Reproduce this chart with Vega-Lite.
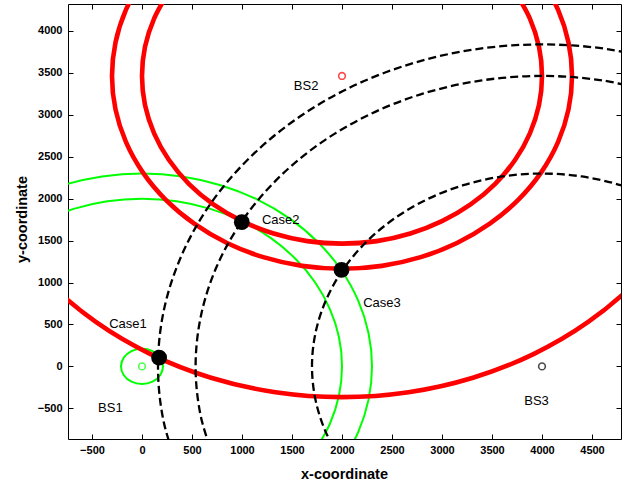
{
  "$schema": "https://vega.github.io/schema/vega-lite/v6.json",
  "width": 553,
  "height": 435,
  "autosize": "none",
  "padding": {"left": 68, "top": 4, "right": 6, "bottom": 49},
  "background": "white",
  "config": {"view": {"stroke": "black", "strokeWidth": 1}, "font": "Liberation Sans"},
  "datasets": {
    "circles": [
      {"g":"red","c":"r1","i":0,"x":268,"y":4464},{"g":"red","c":"r1","i":1,"x":121,"y":4148},{"g":"red","c":"r1","i":2,"x":30,"y":3811},{"g":"red","c":"r1","i":3,"x":0,"y":3464},{"g":"red","c":"r1","i":4,"x":30,"y":3117},{"g":"red","c":"r1","i":5,"x":121,"y":2780},{"g":"red","c":"r1","i":6,"x":268,"y":2464},{"g":"red","c":"r1","i":7,"x":468,"y":2178},{"g":"red","c":"r1","i":8,"x":714,"y":1932},{"g":"red","c":"r1","i":9,"x":1000,"y":1732},{"g":"red","c":"r1","i":10,"x":1316,"y":1585},{"g":"red","c":"r1","i":11,"x":1653,"y":1494},{"g":"red","c":"r1","i":12,"x":2000,"y":1464},{"g":"red","c":"r1","i":13,"x":2347,"y":1494},{"g":"red","c":"r1","i":14,"x":2684,"y":1585},{"g":"red","c":"r1","i":15,"x":3000,"y":1732},{"g":"red","c":"r1","i":16,"x":3286,"y":1932},{"g":"red","c":"r1","i":17,"x":3532,"y":2178},{"g":"red","c":"r1","i":18,"x":3732,"y":2464},{"g":"red","c":"r1","i":19,"x":3879,"y":2780},{"g":"red","c":"r1","i":20,"x":3970,"y":3117},{"g":"red","c":"r1","i":21,"x":4000,"y":3464},{"g":"red","c":"r1","i":22,"x":3970,"y":3811},{"g":"red","c":"r1","i":23,"x":3879,"y":4148},{"g":"red","c":"r1","i":24,"x":3732,"y":4464},
      {"g":"red","c":"r2","i":0,"x":8,"y":4614},{"g":"red","c":"r2","i":1,"x":-161,"y":4251},{"g":"red","c":"r2","i":2,"x":-265,"y":3863},{"g":"red","c":"r2","i":3,"x":-300,"y":3464},{"g":"red","c":"r2","i":4,"x":-265,"y":3065},{"g":"red","c":"r2","i":5,"x":-161,"y":2677},{"g":"red","c":"r2","i":6,"x":8,"y":2314},{"g":"red","c":"r2","i":7,"x":238,"y":1986},{"g":"red","c":"r2","i":8,"x":522,"y":1702},{"g":"red","c":"r2","i":9,"x":850,"y":1472},{"g":"red","c":"r2","i":10,"x":1213,"y":1303},{"g":"red","c":"r2","i":11,"x":1601,"y":1199},{"g":"red","c":"r2","i":12,"x":2000,"y":1164},{"g":"red","c":"r2","i":13,"x":2399,"y":1199},{"g":"red","c":"r2","i":14,"x":2787,"y":1303},{"g":"red","c":"r2","i":15,"x":3150,"y":1472},{"g":"red","c":"r2","i":16,"x":3478,"y":1702},{"g":"red","c":"r2","i":17,"x":3762,"y":1986},{"g":"red","c":"r2","i":18,"x":3992,"y":2314},{"g":"red","c":"r2","i":19,"x":4161,"y":2677},{"g":"red","c":"r2","i":20,"x":4265,"y":3065},{"g":"red","c":"r2","i":21,"x":4300,"y":3464},{"g":"red","c":"r2","i":22,"x":4265,"y":3863},{"g":"red","c":"r2","i":23,"x":4161,"y":4251},{"g":"red","c":"r2","i":24,"x":3992,"y":4614},
      {"g":"red","c":"r3","i":0,"x":-1317,"y":1549},{"g":"red","c":"r3","i":1,"x":-934,"y":1002},{"g":"red","c":"r3","i":2,"x":-462,"y":530},{"g":"red","c":"r3","i":3,"x":85,"y":147},{"g":"red","c":"r3","i":4,"x":690,"y":-135},{"g":"red","c":"r3","i":5,"x":1335,"y":-308},{"g":"red","c":"r3","i":6,"x":2000,"y":-366},{"g":"red","c":"r3","i":7,"x":2665,"y":-308},{"g":"red","c":"r3","i":8,"x":3310,"y":-135},{"g":"red","c":"r3","i":9,"x":3915,"y":147},{"g":"red","c":"r3","i":10,"x":4462,"y":530},{"g":"red","c":"r3","i":11,"x":4934,"y":1002},{"g":"red","c":"r3","i":12,"x":5317,"y":1549},
      {"g":"green","c":"g1","i":0,"x":1732,"y":-1000},{"g":"green","c":"g1","i":1,"x":1879,"y":-684},{"g":"green","c":"g1","i":2,"x":1970,"y":-347},{"g":"green","c":"g1","i":3,"x":2000,"y":0},{"g":"green","c":"g1","i":4,"x":1970,"y":347},{"g":"green","c":"g1","i":5,"x":1879,"y":684},{"g":"green","c":"g1","i":6,"x":1732,"y":1000},{"g":"green","c":"g1","i":7,"x":1532,"y":1286},{"g":"green","c":"g1","i":8,"x":1286,"y":1532},{"g":"green","c":"g1","i":9,"x":1000,"y":1732},{"g":"green","c":"g1","i":10,"x":684,"y":1879},{"g":"green","c":"g1","i":11,"x":347,"y":1970},{"g":"green","c":"g1","i":12,"x":0,"y":2000},{"g":"green","c":"g1","i":13,"x":-347,"y":1970},{"g":"green","c":"g1","i":14,"x":-684,"y":1879},{"g":"green","c":"g1","i":15,"x":-1000,"y":1732},
      {"g":"green","c":"g2","i":0,"x":1992,"y":-1150},{"g":"green","c":"g2","i":1,"x":2161,"y":-787},{"g":"green","c":"g2","i":2,"x":2265,"y":-399},{"g":"green","c":"g2","i":3,"x":2300,"y":0},{"g":"green","c":"g2","i":4,"x":2265,"y":399},{"g":"green","c":"g2","i":5,"x":2161,"y":787},{"g":"green","c":"g2","i":6,"x":1992,"y":1150},{"g":"green","c":"g2","i":7,"x":1762,"y":1478},{"g":"green","c":"g2","i":8,"x":1478,"y":1762},{"g":"green","c":"g2","i":9,"x":1150,"y":1992},{"g":"green","c":"g2","i":10,"x":787,"y":2161},{"g":"green","c":"g2","i":11,"x":399,"y":2265},{"g":"green","c":"g2","i":12,"x":0,"y":2300},{"g":"green","c":"g2","i":13,"x":-399,"y":2265},{"g":"green","c":"g2","i":14,"x":-787,"y":2161},{"g":"green","c":"g2","i":15,"x":-1150,"y":1992},
      {"g":"green","c":"g3","i":0,"x":182,"y":-105},{"g":"green","c":"g3","i":1,"x":210,"y":0},{"g":"green","c":"g3","i":2,"x":182,"y":105},{"g":"green","c":"g3","i":3,"x":105,"y":182},{"g":"green","c":"g3","i":4,"x":0,"y":210},{"g":"green","c":"g3","i":5,"x":-105,"y":182},{"g":"green","c":"g3","i":6,"x":-182,"y":105},{"g":"green","c":"g3","i":7,"x":-210,"y":0},{"g":"green","c":"g3","i":8,"x":-182,"y":-105},{"g":"green","c":"g3","i":9,"x":-105,"y":-182},{"g":"green","c":"g3","i":10,"x":0,"y":-210},{"g":"green","c":"g3","i":11,"x":105,"y":-182},{"g":"green","c":"g3","i":12,"x":182,"y":-105},{"g":"green","c":"g3","i":13,"x":210,"y":0},{"g":"green","c":"g3","i":14,"x":182,"y":105},
      {"g":"black","c":"k1","i":0,"x":5185,"y":3255},{"g":"black","c":"k1","i":1,"x":4601,"y":3411},{"g":"black","c":"k1","i":2,"x":4000,"y":3464},{"g":"black","c":"k1","i":3,"x":3399,"y":3411},{"g":"black","c":"k1","i":4,"x":2815,"y":3255},{"g":"black","c":"k1","i":5,"x":2268,"y":3000},{"g":"black","c":"k1","i":6,"x":1773,"y":2653},{"g":"black","c":"k1","i":7,"x":1347,"y":2227},{"g":"black","c":"k1","i":8,"x":1000,"y":1732},{"g":"black","c":"k1","i":9,"x":745,"y":1185},{"g":"black","c":"k1","i":10,"x":589,"y":601},{"g":"black","c":"k1","i":11,"x":536,"y":0},{"g":"black","c":"k1","i":12,"x":589,"y":-601},{"g":"black","c":"k1","i":13,"x":745,"y":-1185},
      {"g":"black","c":"k2","i":0,"x":5313,"y":3608},{"g":"black","c":"k2","i":1,"x":4667,"y":3782},{"g":"black","c":"k2","i":2,"x":4000,"y":3840},{"g":"black","c":"k2","i":3,"x":3333,"y":3782},{"g":"black","c":"k2","i":4,"x":2687,"y":3608},{"g":"black","c":"k2","i":5,"x":2080,"y":3326},{"g":"black","c":"k2","i":6,"x":1532,"y":2941},{"g":"black","c":"k2","i":7,"x":1059,"y":2468},{"g":"black","c":"k2","i":8,"x":674,"y":1920},{"g":"black","c":"k2","i":9,"x":392,"y":1313},{"g":"black","c":"k2","i":10,"x":218,"y":667},{"g":"black","c":"k2","i":11,"x":160,"y":0},{"g":"black","c":"k2","i":12,"x":218,"y":-667},{"g":"black","c":"k2","i":13,"x":392,"y":-1313},
      {"g":"black","c":"k3","i":0,"x":5150,"y":1992},{"g":"black","c":"k3","i":1,"x":4787,"y":2161},{"g":"black","c":"k3","i":2,"x":4399,"y":2265},{"g":"black","c":"k3","i":3,"x":4000,"y":2300},{"g":"black","c":"k3","i":4,"x":3601,"y":2265},{"g":"black","c":"k3","i":5,"x":3213,"y":2161},{"g":"black","c":"k3","i":6,"x":2850,"y":1992},{"g":"black","c":"k3","i":7,"x":2522,"y":1762},{"g":"black","c":"k3","i":8,"x":2238,"y":1478},{"g":"black","c":"k3","i":9,"x":2008,"y":1150},{"g":"black","c":"k3","i":10,"x":1839,"y":787},{"g":"black","c":"k3","i":11,"x":1735,"y":399},{"g":"black","c":"k3","i":12,"x":1700,"y":0},{"g":"black","c":"k3","i":13,"x":1735,"y":-399},{"g":"black","c":"k3","i":14,"x":1839,"y":-787},{"g":"black","c":"k3","i":15,"x":2008,"y":-1150}
    ],
    "stations": [
      {"name":"BS1","x":0,"y":0,"col":"#00ff00"},
      {"name":"BS2","x":2000,"y":3464,"col":"#ff0000"},
      {"name":"BS3","x":4000,"y":0,"col":"#000000"}
    ],
    "cases": [
      {"name":"Case1","x":171,"y":104},
      {"name":"Case2","x":998,"y":1720},
      {"name":"Case3","x":1995,"y":1150}
    ],
    "labels": [
      {"text":"BS1","x":-316,"y":-493},
      {"text":"BS2","x":1641,"y":3339},
      {"text":"BS3","x":3945,"y":-417},
      {"text":"Case1","x":-140,"y":506},
      {"text":"Case2","x":1387,"y":1740},
      {"text":"Case3","x":2400,"y":756}
    ]
  },
  "layer": [
    {
      "data": {"name": "circles"},
      "transform": [{"filter": "datum.g == 'green'"}],
      "mark": {"type": "line", "clip": true, "interpolate": "catmull-rom", "color": "#00ff00", "strokeWidth": 2},
      "encoding": {
        "x": {"field": "x", "type": "quantitative", "scale": {"domain": [-740, 4790], "nice": false, "zero": false},
          "axis": {"title": "x-coordinate", "orient": "bottom", "format": "d", "offset": -5, "values": [-500,0,500,1000,1500,2000,2500,3000,3500,4000,4500], "grid": false, "domain": false, "tickSize": 5, "tickColor": "black", "labelPadding": 5, "labelFont": "Liberation Sans", "labelFontWeight": "bold", "labelFontSize": 11, "labelColor": "black", "titleFont": "Liberation Sans", "titleFontSize": 14.5, "titleFontWeight": "bold", "titleColor": "black", "titleX": 276, "titleY": 44, "titleBaseline": "alphabetic", "titleAlign": "center"}},
        "y": {"field": "y", "type": "quantitative", "scale": {"domain": [-866, 4322], "nice": false, "zero": false},
          "axis": {"title": "y-coordinate", "orient": "left", "format": "d", "offset": -5, "values": [-500,0,500,1000,1500,2000,2500,3000,3500,4000], "grid": false, "domain": false, "tickSize": 5, "tickColor": "black", "labelPadding": 6, "labelFont": "Liberation Sans", "labelFontWeight": "bold", "labelFontSize": 11, "labelColor": "black", "titleFont": "Liberation Sans", "titleFontSize": 14.5, "titleFontWeight": "bold", "titleColor": "black", "titleX": -47, "titleY": 215, "titleAngle": -90, "titleBaseline": "alphabetic", "titleAlign": "center"}},
        "detail": {"field": "c"},
        "order": {"field": "i", "type": "quantitative"}
      }
    },
    {
      "data": {"name": "circles"},
      "transform": [{"filter": "datum.g == 'red'"}],
      "mark": {"type": "line", "clip": true, "interpolate": "catmull-rom", "color": "#ff0000", "strokeWidth": 4.6},
      "encoding": {
        "x": {"field": "x", "type": "quantitative", "axis": null},
        "y": {"field": "y", "type": "quantitative", "axis": null},
        "detail": {"field": "c"},
        "order": {"field": "i", "type": "quantitative"}
      }
    },
    {
      "data": {"name": "circles"},
      "transform": [{"filter": "datum.g == 'black'"}],
      "mark": {"type": "line", "clip": true, "interpolate": "catmull-rom", "color": "#000000", "strokeWidth": 2.3, "strokeDash": [8, 4]},
      "encoding": {
        "x": {"field": "x", "type": "quantitative", "axis": null},
        "y": {"field": "y", "type": "quantitative", "axis": null},
        "detail": {"field": "c"},
        "order": {"field": "i", "type": "quantitative"}
      }
    },
    {
      "data": {"name": "stations"},
      "mark": {"type": "point", "shape": "circle", "filled": false, "size": 45, "strokeWidth": 1.6},
      "encoding": {
        "x": {"field": "x", "type": "quantitative", "axis": null},
        "y": {"field": "y", "type": "quantitative", "axis": null},
        "stroke": {"field": "col", "type": "nominal", "scale": null}
      }
    },
    {
      "data": {"name": "cases"},
      "mark": {"type": "point", "shape": "circle", "filled": true, "size": 250, "color": "black", "opacity": 1},
      "encoding": {
        "x": {"field": "x", "type": "quantitative", "axis": null},
        "y": {"field": "y", "type": "quantitative", "axis": null}
      }
    },
    {
      "data": {"name": "labels"},
      "mark": {"type": "text", "font": "Liberation Sans", "fontSize": 13, "color": "#000000", "align": "center", "baseline": "middle"},
      "encoding": {
        "x": {"field": "x", "type": "quantitative", "axis": {"orient": "top", "title": null, "labels": false, "offset": -5, "domain": false, "grid": false, "tickSize": 5, "tickColor": "black", "values": [-500,0,500,1000,1500,2000,2500,3000,3500,4000,4500]}},
        "y": {"field": "y", "type": "quantitative", "axis": {"orient": "right", "title": null, "labels": false, "offset": -5, "domain": false, "grid": false, "tickSize": 5, "tickColor": "black", "values": [-500,0,500,1000,1500,2000,2500,3000,3500,4000]}},
        "text": {"field": "text"}
      }
    }
  ],
  "resolve": {"axis": {"x": "independent", "y": "independent"}}
}
